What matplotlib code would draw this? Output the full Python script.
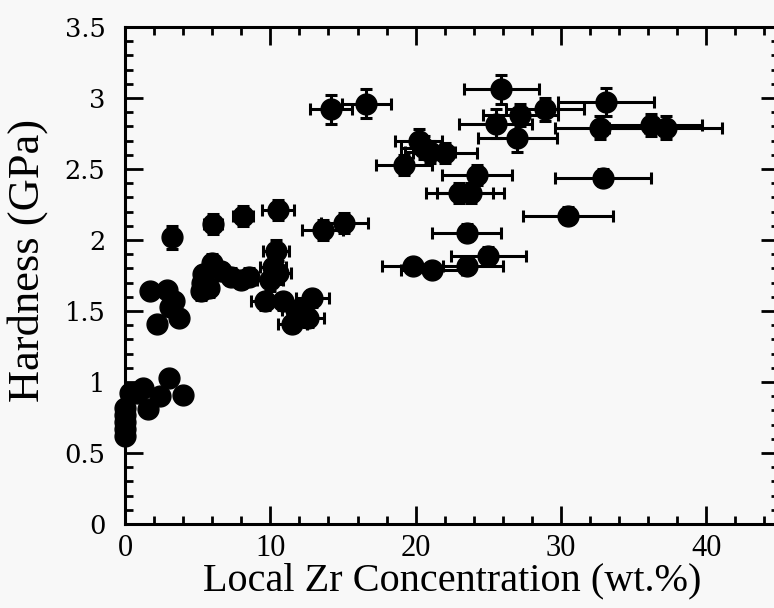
import matplotlib
matplotlib.use('Agg')
import matplotlib.pyplot as plt
from matplotlib.ticker import MultipleLocator

# data
zr = [0, 0, 0, 0, 0, 0.35, 0.8, 1.26, 1.6, 2.4, 3.0, 4.0,
      1.7, 2.9, 3.4, 2.2, 3.7, 3.1,
      3.2, 6.07, 8.1, 10.5,
      6.0, 5.4, 5.3, 5.2, 5.8, 6.6, 7.3, 8.0, 8.5,
      10.4, 10.2, 10.0, 10.5,
      9.6, 10.9, 12.9, 11.5, 12.6, 11.8,
      13.6, 15.1, 14.2, 16.6,
      25.9, 28.9, 33.1, 27.2, 25.5, 27.0, 32.7, 36.2, 37.2,
      20.2, 20.6, 21.0, 19.2, 22.0, 24.2, 23.0, 23.8,
      32.9, 30.5, 23.5, 25.0, 23.5, 19.8, 21.1]
hard = [0.62, 0.67, 0.72, 0.77, 0.82, 0.92, 0.92, 0.96, 0.81, 0.90, 1.03, 0.91,
        1.64, 1.65, 1.57, 1.41, 1.45, 1.53,
        2.02, 2.11, 2.17, 2.21,
        1.84, 1.76, 1.70, 1.64, 1.66, 1.78, 1.74, 1.72, 1.74,
        1.92, 1.81, 1.72, 1.77,
        1.57, 1.57, 1.59, 1.41, 1.45, 1.51,
        2.07, 2.12, 2.92, 2.96,
        3.06, 2.92, 2.97, 2.88, 2.82, 2.72, 2.79, 2.81, 2.79,
        2.70, 2.65, 2.62, 2.53, 2.61, 2.46, 2.33, 2.33,
        2.44, 2.17, 2.05, 1.89, 1.82, 1.82, 1.79]
zr_err = [0, 0, 0, 0, 0, 0, 0, 0, 0, 0, 0, 0,
          0.3, 0.3, 0.3, 0.3, 0.3, 0.3,
          0.3, 0.6, 0.7, 1.1,
          0.5, 0.5, 0.5, 0.5, 0.5, 0.5, 0.5, 0.5, 0.5,
          0.9, 0.9, 0.9, 0.9,
          0.9, 0.9, 1.15, 1.0, 1.1, 1.0,
          1.4, 1.6, 1.45, 1.7,
          2.6, 2.7, 3.3, 2.6, 2.5, 2.7, 3.1, 3.5, 3.9,
          1.6, 1.6, 1.7, 1.9, 2.2, 2.4, 2.3, 2.3,
          3.3, 3.1, 2.4, 2.6, 2.5, 2.1, 2.1]
hard_err = [0, 0, 0, 0, 0, 0, 0, 0, 0, 0, 0, 0,
            0.05, 0.05, 0.05, 0.05, 0.05, 0.05,
            0.08, 0.07, 0.07, 0.07,
            0.06, 0.06, 0.06, 0.06, 0.06, 0.06, 0.06, 0.06, 0.06,
            0.08, 0.08, 0.08, 0.08,
            0.06, 0.06, 0.06, 0.06, 0.06, 0.06,
            0.07, 0.07, 0.1, 0.1,
            0.1, 0.08, 0.1, 0.08, 0.1, 0.1, 0.08, 0.08, 0.08,
            0.08, 0.08, 0.08, 0.07, 0.07, 0.07, 0.07, 0.07,
            0.06, 0.06, 0.06, 0.06, 0.06, 0.05, 0.05]

xticks = [0, 10, 20, 30, 40]
yticks = [0, 0.5, 1, 1.5, 2, 2.5, 3, 3.5]
ytick_labels = ['0', '0.5', '1', '1.5', '2', '2.5', '3', '3.5']

bg = '#f8f8f8'
fig = plt.figure(figsize=(7.74, 6.08), dpi=100, facecolor=bg)
ax = fig.add_axes([125/774, 84/608, 654/774, 497/608])
ax.set_facecolor(bg)

ax.errorbar(zr, hard, xerr=zr_err, yerr=hard_err, fmt='o', color='black',
            markersize=15, elinewidth=2.2, capsize=4.5, capthick=2.2,
            clip_on=False)

ax.set_xlim(0, 45)
ax.set_ylim(0, 3.5)
ax.set_xticks(xticks, [str(v) for v in xticks],
              fontfamily='Liberation Serif', fontsize=22)
ax.set_yticks(yticks, ytick_labels, fontfamily='DejaVu Serif', fontsize=18.5)
ax.xaxis.set_minor_locator(MultipleLocator(2))
ax.yaxis.set_minor_locator(MultipleLocator(0.1))

ax.tick_params(which='both', direction='in', top=True, right=True, width=2)
ax.tick_params(which='major', length=13)
ax.tick_params(which='minor', length=6)
ax.tick_params(axis='x', pad=7)
ax.tick_params(axis='y', pad=14)
for s in ax.spines.values():
    s.set_linewidth(2.2)

ax.set_xlabel('Local Zr Concentration (wt.%)', family='Liberation Serif',
              fontsize=29, labelpad=0)
ax.set_ylabel('Hardness (GPa)', family='Liberation Serif', fontsize=32)
ax.yaxis.set_label_coords(-0.118, 0.53)

plt.savefig('out.png', dpi=100, facecolor=bg)
